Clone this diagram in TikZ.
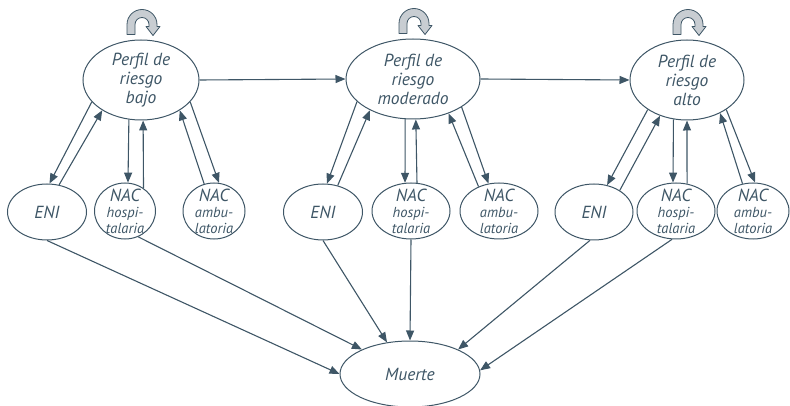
\documentclass[tikz,border=0pt]{standalone}
\usepackage{fontspec}
\setmainfont{PT Sans}
\usepackage{tikz}
\usetikzlibrary{arrows.meta,shapes.geometric,calc}
\definecolor{mslate}{RGB}{62,86,102}
\definecolor{mloopgray}{RGB}{200,205,210}
\tikzstyle{arrow} = [line width=1.1pt,-{Triangle[length=10pt,width=8pt]},color=mslate]
\tikzstyle{perfilbox} = [ellipse, draw=mslate, line width=1pt, inner sep=0pt, minimum height=80pt]
\tikzstyle{estadobox} = [ellipse, draw=mslate, line width=1pt, inner sep=0pt, minimum height=56pt]
\tikzstyle{perfiltext} = [text=mslate, align=center, inner sep=0pt, font=\fontsize{17.5}{19}\selectfont\itshape]
\tikzstyle{estadotext} = [text=mslate, align=center, inner sep=0pt, font=\fontsize{17.5}{16}\selectfont\itshape]
\tikzstyle{bucle} = [fill=mloopgray, draw=mslate, line width=0.8pt, line join=round]
\newcommand{\subtxt}{\fontsize{14.5}{15}\selectfont}
\newcommand{\autobucle}[1]{%
  \filldraw[bucle] ($(#1)+(-15,10)$) -- ++(0,-10)
    arc[start angle=180,end angle=360,radius=15] -- ++(0,2) -- ++(3,0)
    -- ++(-7,9) -- ++(-7,-9) -- ++(3,0) -- ++(0,-2)
    arc[start angle=360,end angle=180,radius=7] -- ++(0,10) -- cycle;}

\begin{document}
\begin{tikzpicture}[x=1pt,y=-1pt]
\useasboundingbox (0,0) rectangle (790,406);
% Perfiles
\node[perfilbox, minimum width=116pt, label={[perfiltext]center:Perfil de\\riesgo\\bajo}] (bajo) at (141,80) {};
\node[perfilbox, minimum width=134pt, label={[perfiltext]center:Perfil de\\riesgo\\moderado}] (moderado) at (413,79) {};
\node[perfilbox, minimum width=114pt, label={[perfiltext]center:Perfil de\\riesgo\\alto}] (alto) at (687,80) {};

% Bucles
\autobucle{$(bajo.north)+(1,-15)$}
\autobucle{$(moderado.north)+(1,-15)$}
\autobucle{$(alto.north)+(1,-15)$}

% Estados
\node[estadobox, minimum width=79pt, label={[estadotext]center:ENI}] (eni1) at (47,212) {};
\node[estadobox, minimum width=61pt, label={[estadotext]center:NAC\\{\subtxt hospi-}\\{\subtxt talaria}}] (hosp1) at (125,211) {};
\node[estadobox, minimum width=62pt, label={[estadotext]center:NAC\\{\subtxt ambu-}\\{\subtxt latoria}}] (amb1) at (214,211) {};
\node[estadobox, minimum width=79pt, label={[estadotext]center:ENI}] (eni2) at (323,212) {};
\node[estadobox, minimum width=78pt, label={[estadotext]center:NAC\\{\subtxt hospi-}\\{\subtxt talaria}}] (hosp2) at (411,211) {};
\node[estadobox, minimum width=78pt, label={[estadotext]center:NAC\\{\subtxt ambu-}\\{\subtxt latoria}}] (amb2) at (499,211) {};
\node[estadobox, minimum width=78pt, label={[estadotext]center:ENI}] (eni3) at (594,212) {};
\node[estadobox, minimum width=78pt, label={[estadotext]center:NAC\\{\subtxt hospi-}\\{\subtxt talaria}}] (hosp3) at (676,211) {};
\node[estadobox, minimum width=72pt, label={[estadotext]center:NAC\\{\subtxt ambu-}\\{\subtxt latoria}}] (amb3) at (753,211) {};

% Muerte
\node[perfilbox, minimum width=140pt, minimum height=66pt, label={[perfiltext]center:Muerte}] (muerte) at (410,374) {};

% Arrows
\draw[arrow] (bajo.east) -- (moderado.west);
\draw[arrow] (moderado.east) -- (alto.west);

\draw[arrow] (bajo.204) -- (eni1.85);
\draw[arrow] (eni1.66) -- (bajo.218);
\draw[arrow] (bajo.253) -- (hosp1.84);
\draw[arrow] (hosp1.51) -- (bajo.273);
\draw[arrow] (bajo.336) -- (amb1.80);
\draw[arrow] (amb1.110) -- (bajo.322);

\draw[arrow] (moderado.202) -- (eni2.82);
\draw[arrow] (eni2.61) -- (moderado.216);
\draw[arrow] (moderado.259) -- (hosp2.102);
\draw[arrow] (hosp2.78) -- (moderado.274);
\draw[arrow] (moderado.330) -- (amb2.111);
\draw[arrow] (amb2.130) -- (moderado.316);

\draw[arrow] (alto.217) -- (eni3.64);
\draw[arrow] (eni3.40) -- (alto.233);
\draw[arrow] (alto.251) -- (hosp3.96);
\draw[arrow] (hosp3.68) -- (alto.270);
\draw[arrow] (alto.323) -- (amb3.86);
\draw[arrow] (amb3.111) -- (alto.315);

\draw[arrow] (eni1.270) -- (muerte.180);
\draw[arrow] (hosp1.297) -- (muerte.153);
\draw[arrow] (eni2.270) -- (muerte.126);
\draw[arrow] (hosp2.270) -- (muerte.90);
\draw[arrow] (eni3.262) -- (muerte.27);
\draw[arrow] (hosp3.262) -- (muerte.3);
\end{tikzpicture}
\end{document}
